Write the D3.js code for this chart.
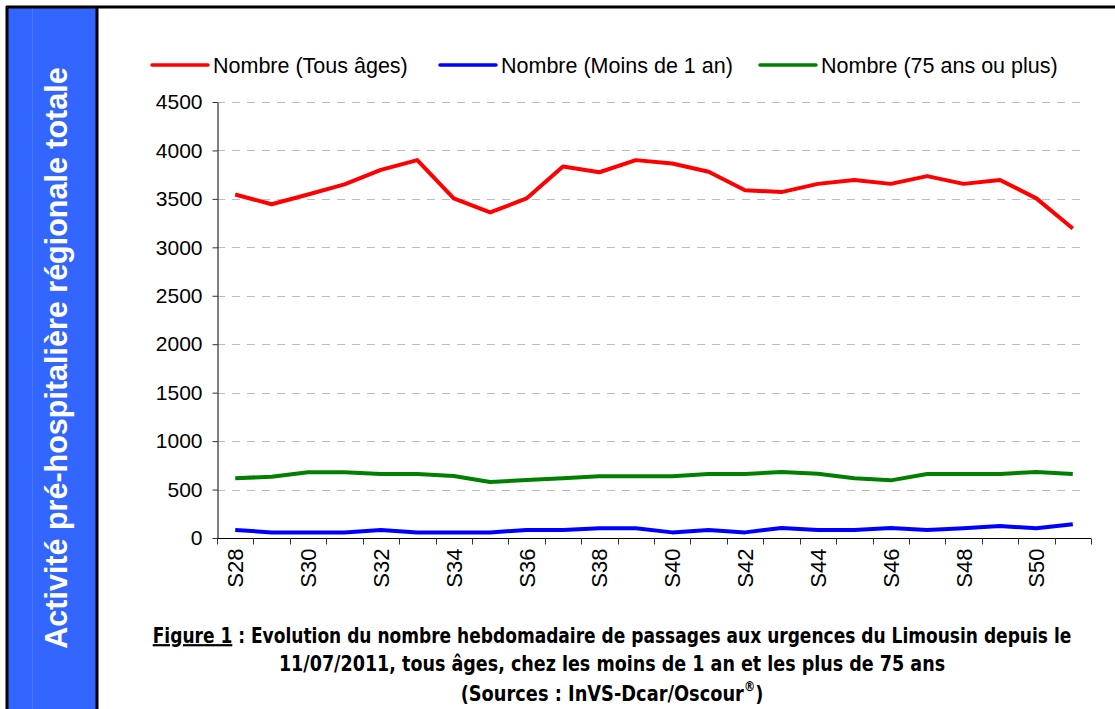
<!DOCTYPE html>
<html>
<head>
<meta charset="utf-8">
<script src="https://d3js.org/d3.v7.min.js"></script>
<style>
  body { margin: 0; background: #fff; }
  svg { display: block; }
</style>
</head>
<body>
<div id="chart"></div>
<script>
// weeks S28..S51
var weeks = ["S28","S29","S30","S31","S32","S33","S34","S35","S36","S37","S38","S39",
             "S40","S41","S42","S43","S44","S45","S46","S47","S48","S49","S50","S51"];
var tousAges = [3545,3445,3545,3650,3800,3900,3505,3360,3505,3835,3775,3900,
                3865,3780,3590,3570,3655,3695,3655,3735,3655,3695,3505,3195];
var moins1an = [83,58,58,58,83,58,58,58,83,83,100,100,
                58,83,58,104,83,83,104,83,100,124,100,141];
var plus75 = [616,633,678,678,661,661,640,578,599,616,637,637,
              637,661,661,681,664,616,595,661,661,661,681,661];
var yTicks = [0,500,1000,1500,2000,2500,3000,3500,4000,4500];
var seriesNames = ["Nombre (Tous âges)", "Nombre (Moins de 1 an)", "Nombre (75 ans ou plus)"];
var seriesColors = ["#ff0000", "#0000ff", "#008000"];

var W = 1115, H = 709;
var plot = {left: 217, right: 1091, top: 102, bottom: 538};
var arial = "'Liberation Sans', Arial, sans-serif";

var svg = d3.select("#chart").append("svg")
    .attr("width", W).attr("height", H);

// frame + blue side band
svg.append("rect").attr("x", 8).attr("y", 8).attr("width", 89).attr("height", H - 8)
    .attr("fill", "#3366ff");
svg.append("line").attr("x1", 32.5).attr("x2", 32.5).attr("y1", 8).attr("y2", H)
    .attr("stroke", "#4a78ff").attr("stroke-width", 1);
svg.append("line").attr("x1", 6).attr("x2", W).attr("y1", 7).attr("y2", 7)
    .attr("stroke", "#000").attr("stroke-width", 3);
svg.append("line").attr("x1", 7).attr("x2", 7).attr("y1", 6).attr("y2", H)
    .attr("stroke", "#000").attr("stroke-width", 3);
svg.append("line").attr("x1", 97).attr("x2", 97).attr("y1", 6).attr("y2", H)
    .attr("stroke", "#000").attr("stroke-width", 3);

svg.append("text")
    .attr("transform", "translate(67, 358) rotate(-90)")
    .attr("text-anchor", "middle")
    .attr("font-family", arial)
    .attr("font-weight", "bold")
    .attr("font-size", 30.5)
    .attr("fill", "#fff")
    .text("Activité pré-hospitalière régionale totale");

// scales
var x = d3.scaleBand().domain(weeks).range([plot.left, plot.right]);
var y = d3.scaleLinear().domain([0, 4500]).range([plot.bottom, plot.top]);

// dashed grid
svg.append("g").selectAll("line")
    .data(yTicks.filter(d => d > 0))
    .enter().append("line")
    .attr("x1", plot.left).attr("x2", plot.right - 6)
    .attr("y1", d => Math.round(y(d)) + 0.5).attr("y2", d => Math.round(y(d)) + 0.5)
    .attr("stroke", "#bdbdbd").attr("stroke-width", 1)
    .attr("stroke-dasharray", "8,7");

// y axis
var yAxis = svg.append("g")
    .attr("transform", "translate(" + (plot.left + 0.5) + ",0)")
    .call(d3.axisLeft(y).tickValues(yTicks).tickFormat(d3.format("d"))
        .tickSize(5).tickPadding(10).tickSizeOuter(0));
yAxis.selectAll("text").attr("font-family", arial)
    .attr("font-size", 21).attr("fill", "#000");
yAxis.selectAll("line, path").attr("stroke", "#000");
yAxis.selectAll(".tick line").attr("stroke", "#333");

// x axis: ticks on band boundaries
var xAxis = svg.append("g")
    .attr("transform", "translate(0," + (plot.bottom + 0.5) + ")");
xAxis.append("line").attr("x1", plot.left).attr("x2", plot.right)
    .attr("stroke", "#000");
var bounds = weeks.map(w => x(w)).concat([plot.right]);
xAxis.selectAll(".tk").data(bounds).enter().append("line")
    .attr("x1", d => Math.round(d) + 0.5).attr("x2", d => Math.round(d) + 0.5)
    .attr("y1", 0).attr("y2", 6).attr("stroke", "#333");
xAxis.selectAll(".lbl").data(weeks.filter((w, i) => i % 2 === 0)).enter().append("text")
    .attr("transform", d => "translate(" + (x(d) + x.bandwidth() / 2 + 8) + ",10) rotate(-90)")
    .attr("text-anchor", "end")
    .attr("font-family", arial)
    .attr("font-size", 22).attr("fill", "#000")
    .text(d => d);

// lines
var allSeries = [tousAges, moins1an, plus75];
var line = d3.line()
    .x((d, i) => x(weeks[i]) + x.bandwidth() / 2)
    .y(d => y(d));
allSeries.forEach(function(s, k) {
    svg.append("path").datum(s)
        .attr("d", line)
        .attr("fill", "none")
        .attr("stroke", seriesColors[k])
        .attr("stroke-width", 4)
        .attr("stroke-linejoin", "round");
});

// legend
var legendX = [152, 440, 760];
seriesNames.forEach(function(n, k) {
    var g = svg.append("g").attr("transform", "translate(" + legendX[k] + ",65)");
    g.append("line").attr("x1", 0).attr("x2", 56).attr("y1", 0).attr("y2", 0)
        .attr("stroke", seriesColors[k]).attr("stroke-width", 3.5).attr("stroke-linecap", "round");
    g.append("text").attr("x", 61).attr("y", 7.5)
        .attr("font-family", arial)
        .attr("font-size", 21.5).attr("fill", "#000")
        .text(n);
});

// caption: narrow bold look, each line squeezed to the reference width
function captionLine(yPos, width, build) {
    var g = svg.append("g");
    var t = g.append("text")
        .attr("text-anchor", "middle")
        .attr("font-family", "'DejaVu Sans', sans-serif")
        .attr("font-weight", "bold")
        .attr("font-size", 22)
        .attr("fill", "#000")
        .attr("x", 0).attr("y", yPos);
    build(t);
    var w = t.node().getBBox().width;
    g.attr("transform", "translate(612,0) scale(" + (width / w) + ",1)");
}
captionLine(643, 919, function(t) {
    t.append("tspan").attr("text-decoration", "underline").text("Figure 1");
    t.append("tspan").text(" : Evolution du nombre hebdomadaire de passages aux urgences du Limousin  depuis le");
});
captionLine(671, 667, function(t) {
    t.text("11/07/2011, tous âges, chez les moins de 1 an et les plus de 75 ans");
});
captionLine(701, 303, function(t) {
    t.append("tspan").text("(Sources : InVS-Dcar/Oscour");
    t.append("tspan").attr("font-size", 14).attr("dy", -10).text("®");
    t.append("tspan").attr("dy", 10).text(")");
});
</script>
</body>
</html>
